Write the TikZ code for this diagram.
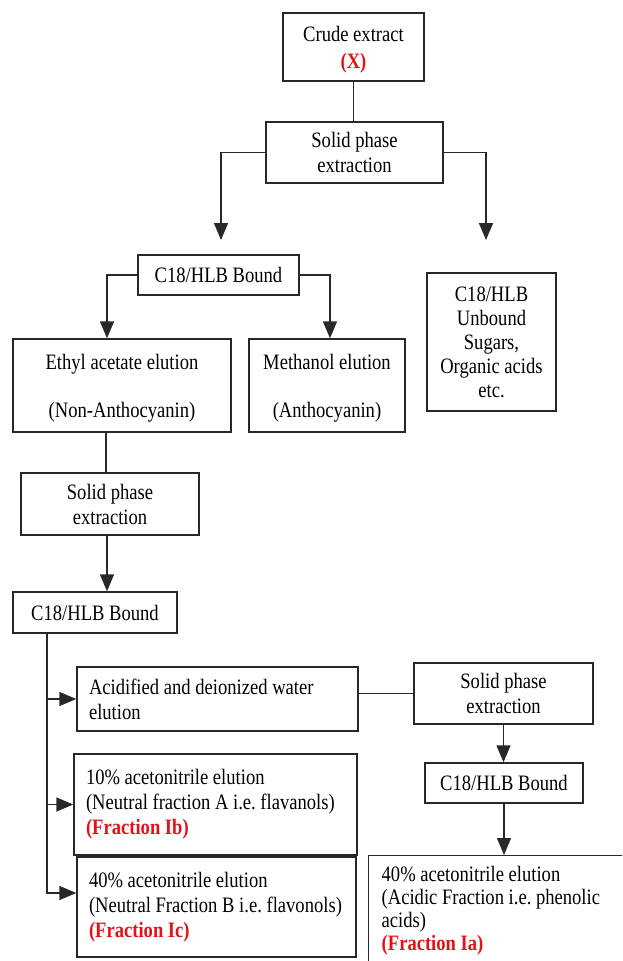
\documentclass[tikz,border=0pt]{standalone}
\usepackage{fontspec}
\setmainfont{Liberation Serif}[FakeStretch=0.845]
\usetikzlibrary{arrows.meta}
\definecolor{frred}{RGB}{228,18,24}
\definecolor{bord}{RGB}{40,40,40}
\newcommand{\fr}[1]{\textcolor{frred}{\textbf{#1}}}
\begin{document}
\begin{tikzpicture}[x=1pt,y=-1pt,
  basebox/.style={draw=bord,line width=1.4pt,inner sep=0pt,font=\fontsize{22}{25}\selectfont\frenchspacing},
  box/.style={basebox,align=center,text depth=0pt},
  lbox/.style={basebox,align=flush left,inner xsep=12pt},
  ln/.style={draw=bord,line width=1.4pt},
  arr/.style={ln,-{Triangle[width=14pt,length=17pt]}}]
\useasboundingbox (0,0) rectangle (622,961);
\clip (0,0) rectangle (622,961);
% boxes
\node[box,minimum width=141pt,minimum height=68pt] (crude) at (353.5,47) {Crude extract\\[2pt]\fr{(X)}};
\node[box,minimum width=177pt,minimum height=61pt] (spe1) at (354.5,152.5) {Solid phase\\extraction};
\node[box,minimum width=161pt,minimum height=40pt] (b1) at (218.5,275) {C18/HLB Bound};
\node[box,minimum width=129pt,minimum height=138pt,font=\fontsize{22}{24}\selectfont] (unb) at (491.5,342) {C18/HLB\\Unbound\\Sugars,\\Organic acids\\etc.};
\node[box,minimum width=218pt,minimum height=93pt] (eth) at (122,385.5) {Ethyl acetate elution\\[23pt](Non-Anthocyanin)};
\node[box,minimum width=156pt,minimum height=93pt] (meth) at (327,385.5) {Methanol elution\\[23pt](Anthocyanin)};
\node[box,minimum width=178pt,minimum height=62pt] (spe2) at (110,504) {Solid phase\\extraction};
\node[box,minimum width=164pt,minimum height=41pt] (b2) at (95,612.5) {C18/HLB Bound};
\node[lbox,text width=257pt,minimum height=64pt] (acid) at (217.5,699) {\mbox{Acidified and deionized water}\\elution};
\node[lbox,text width=259pt,minimum height=101pt] (ib) at (215.5,804.5) {\mbox{10\% acetonitrile elution}\\\mbox{(Neutral fraction A i.e. flavanols)}\\\fr{(Fraction Ib)}};
\node[lbox,text width=255pt,minimum height=100pt] (ic) at (216.5,907) {\mbox{40\% acetonitrile elution}\\\mbox{(Neutral Fraction B i.e. flavonols)}\\\fr{(Fraction Ic)}};
\node[box,minimum width=179pt,minimum height=61pt] (spe3) at (503.5,693.5) {Solid phase\\extraction};
\node[box,minimum width=158pt,minimum height=40pt] (b3) at (504,783) {C18/HLB Bound};
\node[lbox,inner xsep=13pt,text width=244pt,minimum height=110pt,anchor=north west,font=\fontsize{22}{23.3}\selectfont\frenchspacing] (ia) at (368,855) {\mbox{40\% acetonitrile elution}\\\mbox{(Acidic Fraction i.e. phenolic}\\acids)\\\fr{(Fraction Ia)}};
% connectors
\coordinate (t1) at (221,240);
\coordinate (t2) at (486,240);
\draw[ln] (crude.south) -- (crude.south |- spe1.north);
\draw[arr] (spe1.west) -| (t1);
\draw[arr] (spe1.east) -| (t2);
\draw[arr] (b1.west) -| ([xshift=-15pt]eth.north);
\draw[arr] (b1.east) -| ([xshift=3pt]meth.north);
\draw[ln] ([xshift=-16pt]eth.south) -- ([xshift=-4pt]spe2.north);
\draw[arr] ([xshift=-3pt]spe2.south) -- ([xshift=12pt]b2.north);
\coordinate (vt) at ([xshift=-48pt]b2.south);
\draw[arr] (vt) |- ([yshift=14pt]ic.west);
\draw[arr] (acid.west -| vt) -- (acid.west);
\draw[arr] (ib.west -| vt) -- (ib.west);
\draw[ln] (acid.east |- spe3.west) -- (spe3.west);
\draw[arr] (spe3.south) -- (spe3.south |- b3.north);
\draw[arr] (b3.south) -- (b3.south |- ia.north);
\end{tikzpicture}
\end{document}
